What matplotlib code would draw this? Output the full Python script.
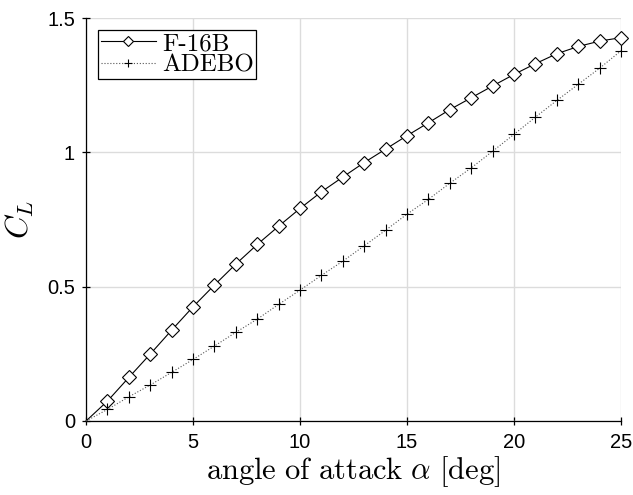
import matplotlib
matplotlib.use("Agg")
import matplotlib.pyplot as plt
import numpy as np

alpha = list(range(0, 26))
cl_f16b = [0.0, 0.074, 0.162, 0.249, 0.338, 0.425, 0.506, 0.584, 0.657, 0.725, 0.791,
           0.853, 0.908, 0.962, 1.012, 1.062, 1.110, 1.159, 1.203, 1.247, 1.290,
           1.330, 1.367, 1.394, 1.414, 1.427]
cl_adebo = [0.0, 0.043, 0.090, 0.134, 0.181, 0.229, 0.279, 0.330, 0.379, 0.434, 0.487,
            0.542, 0.595, 0.652, 0.710, 0.770, 0.825, 0.885, 0.942, 1.004, 1.067,
            1.131, 1.193, 1.253, 1.313, 1.378]
xticks = [0, 5, 10, 15, 20, 25]
yticks = [0, 0.5, 1, 1.5]
yticklabels = ["0", "0.5", "1", "1.5"]

plt.rcParams['mathtext.fontset'] = 'cm'
plt.rcParams['font.family'] = ['Liberation Sans', 'DejaVu Sans']

fig = plt.figure(figsize=(6.33, 4.95), dpi=100)
ax = fig.add_axes([0.1359, 0.1495, 0.981 - 0.1359, 0.9636 - 0.1495])

ax.plot(alpha, cl_f16b, color='black', lw=0.8, marker='D', markersize=7,
        markerfacecolor='white', markeredgecolor='black', markeredgewidth=0.8,
        markevery=slice(1, None), label='F-16B', clip_on=False, zorder=3)
ax.plot(alpha, cl_adebo, color='#555555', lw=0.8, ls=':', marker='+', markersize=8,
        markeredgecolor='black', markeredgewidth=0.8,
        markevery=slice(1, None), label='ADEBO', clip_on=False, zorder=3)

ax.set_xlim(0, 25)
ax.set_ylim(0, 1.5)
ax.set_xticks(xticks)
ax.set_yticks(yticks)
ax.set_yticklabels(yticklabels)
ax.tick_params(labelsize=14.5, direction='inout', length=6, width=0.9, color='black')
ax.tick_params(axis='x', pad=6)
ax.tick_params(axis='y', pad=5)
ax.grid(True, color='#dcdcdc', lw=1.0)
ax.set_axisbelow(True)
for s in ['top', 'right']:
    ax.spines[s].set_visible(False)
for s in ['left', 'bottom']:
    ax.spines[s].set_color('black')
    ax.spines[s].set_linewidth(0.9)

ax.set_xlabel(r'$\mathrm{angle\ of\ attack}\ \alpha\ [\mathrm{deg}]$', fontsize=22, labelpad=1)
ax.set_ylabel(r'$C_L$', fontsize=23, labelpad=8)

leg = ax.legend(loc='upper left', bbox_to_anchor=(0.0224, 0.97),
                prop={'family': 'cmr10', 'size': 18}, fancybox=False, framealpha=1,
                edgecolor='black', handlelength=2.2, borderpad=0.1, labelspacing=-0.05,
                handletextpad=0.25, borderaxespad=0, markerscale=0.75)
leg.get_frame().set_linewidth(0.9)

fig.savefig('out.png', dpi=100)
